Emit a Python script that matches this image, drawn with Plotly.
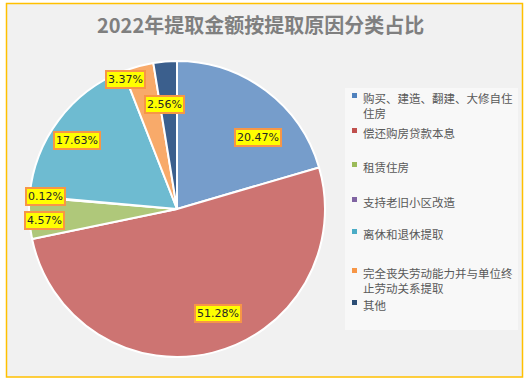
import math
import plotly.graph_objects as go

# ---- data ----
categories = [
    "购买、建造、翻建、大修自住住房",
    "偿还购房贷款本息",
    "租赁住房",
    "支持老旧小区改造",
    "离休和退休提取",
    "完全丧失劳动能力并与单位终止劳动关系提取",
    "其他",
]
legend_text = [
    "购买、建造、翻建、大修自住<br>住房",
    "偿还购房贷款本息",
    "租赁住房",
    "支持老旧小区改造",
    "离休和退休提取",
    "完全丧失劳动能力并与单位终<br>止劳动关系提取",
    "其他",
]
values = [20.47, 51.28, 4.57, 0.12, 17.63, 3.37, 2.56]
label_texts = ["20.47%", "51.28%", "4.57%", "0.12%", "17.63%", "3.37%", "2.56%"]

# ---- style ----
colors = ["#769DCB", "#CD7472", "#AFC87A", "#8064A2", "#6EBBD1", "#F8AA6A", "#3B5F8D"]
legend_colors = ["#4F81BD", "#C0504D", "#9BBB59", "#8064A2", "#4BACC6", "#F79646", "#2C4D75"]
W, H = 532, 383
cx, cy, R = 177, 209, 148
label_r = [0.73, 0.76, 0.895, 0.895, 0.82, 0.94, 0.71]
label_shift = [12, -7.5, -1.3, 0.3, -2.6, -6.3, -2.0]
legend_y = [88, 123, 157, 192, 224, 263, 295]

fig = go.Figure()
fig.add_trace(go.Pie(
    labels=categories, values=values, sort=False, direction="clockwise",
    rotation=0, textinfo="none", hoverinfo="skip", showlegend=False,
    marker=dict(colors=colors, line=dict(color="white", width=2)),
    domain=dict(x=[(cx - R) / W, (cx + R) / W],
                y=[(H - cy - R) / H, (H - cy + R) / H]),
))

shapes = [
    dict(type="rect", xref="paper", yref="paper", x0=6.5 / W, x1=522.5 / W,
         y0=1 - 377 / H, y1=1 - 3.5 / H, fillcolor="#F1F1F1",
         line=dict(color="#FFC000", width=1.5), layer="below"),
    dict(type="rect", xref="paper", yref="paper", x0=345 / W, x1=518 / W,
         y0=1 - 330 / H, y1=1 - 88 / H, fillcolor="#F8F8F8",
         line=dict(width=0), layer="below"),
]
annotations = [
    dict(text="<b>2022年提取金额按提取原因分类占比</b>", xref="paper", yref="paper",
         x=260 / W, y=1 - 25 / H, xanchor="center", yanchor="middle", showarrow=False,
         font=dict(family="Noto Sans CJK SC", size=20, color="#7F7F7F")),
]

total = sum(values)
cum = 0.0
for i, v in enumerate(values):
    mid = (cum + v / 2) / total * 360 + label_shift[i]
    cum += v
    a = math.radians(mid)
    px = cx + label_r[i] * R * math.sin(a)
    py = cy - label_r[i] * R * math.cos(a)
    annotations.append(dict(
        text=label_texts[i], xref="paper", yref="paper", x=px / W, y=1 - py / H,
        xanchor="center", yanchor="middle", showarrow=False,
        bgcolor="#FFFF00", bordercolor="#F79646", borderwidth=2, borderpad=1,
        font=dict(family="DejaVu Sans", size=11, color="#262626"),
    ))

for i, t in enumerate(legend_text):
    y0 = legend_y[i]
    shapes.append(dict(type="rect", xref="paper", yref="paper",
                       x0=352 / W, x1=357 / W, y0=1 - (y0 + 10) / H, y1=1 - (y0 + 5) / H,
                       fillcolor=legend_colors[i], line=dict(width=0)))
    annotations.append(dict(
        text=t, xref="paper", yref="paper", x=361 / W, y=1 - y0 / H,
        xanchor="left", yanchor="top", align="left", showarrow=False,
        font=dict(family="Noto Sans CJK SC", size=11.5, color="#595959"),
    ))

fig.update_layout(
    width=W, height=H, margin=dict(l=0, r=0, t=0, b=0),
    paper_bgcolor="white", plot_bgcolor="white",
    shapes=shapes, annotations=annotations,
)
fig.write_html("out.html", config={"displayModeBar": False},
               post_script="document.body.style.margin='0';")
